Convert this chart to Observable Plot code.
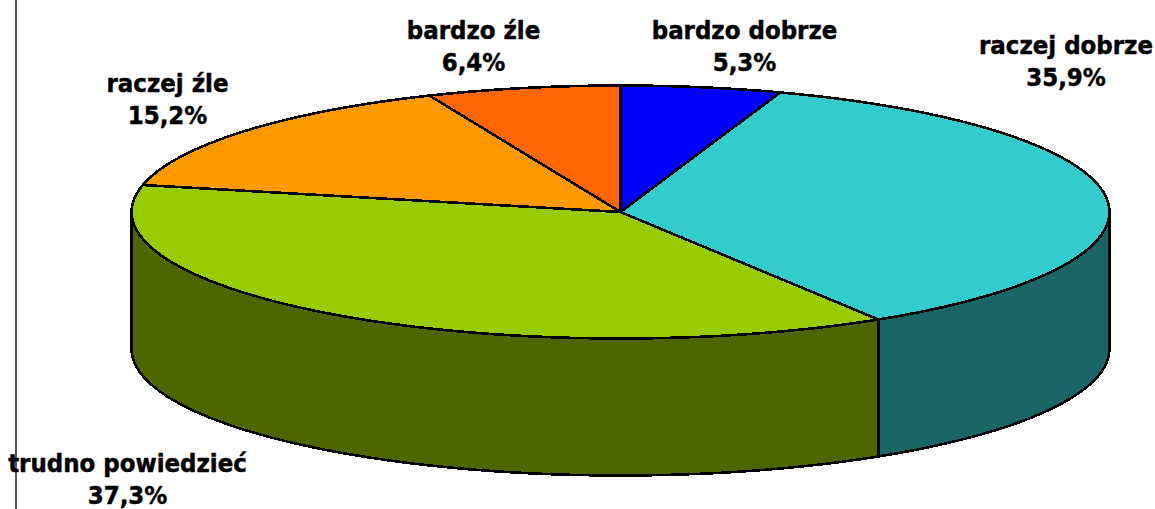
<!DOCTYPE html>
<html><head><meta charset="utf-8">
<style>html,body{margin:0;padding:0;background:#fff;overflow:hidden}svg{display:block}</style>
<script src="https://cdn.jsdelivr.net/npm/d3@7"></script>
<script src="https://cdn.jsdelivr.net/npm/@observablehq/plot@0.6"></script>
</head><body><script>
const categories = ["bardzo dobrze","raczej dobrze","trudno powiedzieć","raczej źle","bardzo źle"];
const values = [5.3,35.9,37.3,15.2,6.4];

const topColors = ["#0000ff","#33cccc","#99cc00","#ff9900","#ff6600"];
const wallColors = ["#000080","#1a6666","#4d6600","#804d00","#803300"];
const labelX = [744,1065.5,127,167,473];
const labelY = [44,59,477,97,44];
const depth = 137/126.5;

const total = d3.sum(values);
const pt = (t,z=0)=>({x:Math.sin(t*Math.PI/180), y:Math.cos(t*Math.PI/180)-z});
const arc = (a,b,z=0)=>{const n=Math.max(1,Math.round(Math.abs(b-a)/2.5));return d3.range(n+1).map(i=>pt(a+(b-a)*i/n,z));};

let acc=0; const slices = categories.map((name,i)=>{const a=acc/total*360; acc+=values[i]; return {name,a,b:acc/total*360,i};});

const tops = slices.flatMap(s=>[{x:0,y:0},...arc(s.a,s.b),{x:0,y:0}].map(p=>({...p,key:s.name})));
const walls = slices.flatMap(s=>{
  const a=Math.max(s.a,90), b=Math.min(s.b,270);
  if(b<=a) return [];
  const up=arc(a,b), down=arc(b,a,depth);
  return [...up,...down,up[0]].map(p=>({...p,key:s.name}));
});
const labels = slices.map(s=>({text:`${s.name}\n${String(values[s.i].toFixed(1)).replace(".",",")}%`,lx:labelX[s.i],ly:labelY[s.i]}));

const toUnitX = d3.scaleLinear([131,1109],[-1,1]);
const toUnitY = d3.scaleLinear([85,338],[1,-1]);

const chart = Plot.plot({
  width:1155,height:509,margin:0,
  x:{domain:[-1,1],range:[131,1109],axis:null},
  y:{domain:[1,-1],range:[85,338],axis:null},
  color:{type:"ordinal",domain:categories,range:topColors},
  marks:[
    Plot.ruleX([toUnitX(15.5)],{y1:toUnitY(0),y2:toUnitY(509),stroke:"#222",strokeWidth:1.5}),
    Plot.line(walls,{x:"x",y:"y",z:"key",fill:d=>wallColors[categories.indexOf(d.key)],stroke:"#000",strokeWidth:2.6,strokeLinejoin:"round",shapeRendering:"crispEdges"}),
    Plot.line(tops,{x:"x",y:"y",z:"key",fill:d=>topColors[categories.indexOf(d.key)],stroke:"#000",strokeWidth:2.6,strokeLinejoin:"round",shapeRendering:"crispEdges"}),
    Plot.text(labels,{x:d=>toUnitX(d.lx),y:d=>toUnitY(d.ly),text:"text",fill:"#000",stroke:"#000",strokeWidth:0.45,fontSize:25.5,fontWeight:"bold",fontFamily:"'DejaVu Sans Condensed','DejaVu Sans',sans-serif",lineHeight:1.27,textAnchor:"middle"})
  ]
});
document.body.appendChild(chart);
</script></body></html>
